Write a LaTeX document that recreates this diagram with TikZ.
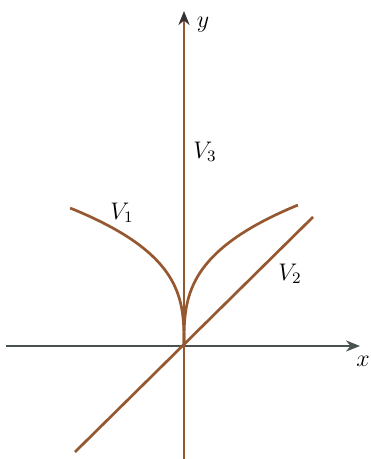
\documentclass[tikz,border=0pt]{standalone}
\usetikzlibrary{arrows.meta}
\definecolor{curvebrown}{RGB}{150,88,48}
\definecolor{axisgray}{RGB}{72,82,78}
\begin{document}
\begin{tikzpicture}[
    x=0.5pt, y=0.5pt,
    >={Stealth[length=7pt,width=5.5pt]},
    curve/.style={curvebrown, line width=1.35pt},
    axis/.style={axisgray, line width=1.1pt, ->},
    lbl/.style={inner sep=1pt, font=\large},
]
\useasboundingbox (-184,-113) rectangle (186,346);
% === Axes ===
\coordinate (xs) at (-178,0);
\coordinate (xe) at (176,0);
\coordinate (ys) at (0,-113);
\coordinate (ye) at (0,335);
\draw[axis] (xs) -- (xe);
\draw[curve, -{Stealth[length=7pt,width=5.5pt,color=black!80]}] (ys) -- (ye);
\node[lbl] (xlbl) at (179,-15) {$x$};
\node[lbl] (ylbl) at (19,321) {$y$};
% === Cusp branches ===
\draw[curve] plot[domain=0:1, samples=50, variable=\t] ({-114*\t*\t*\t}, {138*\t});
\draw[curve] plot[domain=0:1, samples=50, variable=\t] ({114*\t*\t*\t}, {141*\t});
% === Line through origin ===
\coordinate (la) at (-109,-106);
\coordinate (lb) at (129,129);
\draw[curve] (la) -- (lb);
% === Labels ===
\node[lbl] (v1) at (-62,133) {$V_1$};
\node[lbl] (v2) at (106,72) {$V_2$};
\node[lbl] (v3) at (21,194) {$V_3$};
\end{tikzpicture}
\end{document}
